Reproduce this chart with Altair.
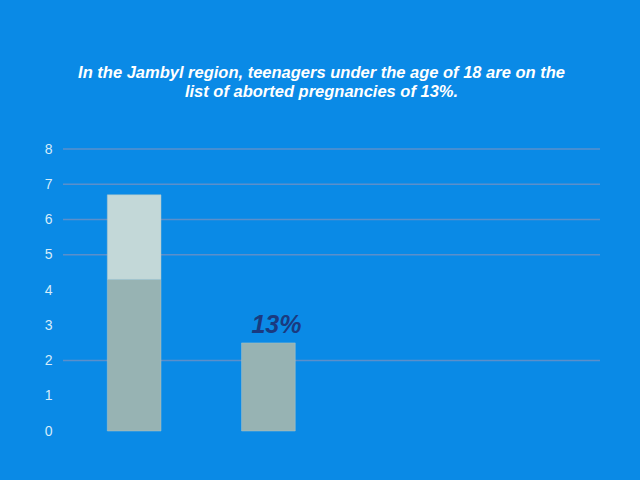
import altair as alt
import pandas as pd

categories = ["1", "2", "3", "4"]
bar_cats = ["1", "1", "2"]
bar_series = ["base", "top", "base"]
bar_values = [4.3, 2.4, 2.5]
grid_values = [8, 7, 6, 5, 2]
tick_values = [0, 1, 2, 3, 4, 5, 6, 7, 8]
label_cat = ["2"]
label_value = [2.5]
label_text = ["13%"]
title_lines = ["In the Jambyl region, teenagers under the age of 18 are on the",
               "list of aborted pregnancies of 13%."]

bars_df = pd.DataFrame({"cat": bar_cats, "series": bar_series, "value": bar_values,
                        "order": [0, 1, 0]})
grid_df = pd.DataFrame({"v": grid_values})
label_df = pd.DataFrame({"cat": label_cat, "value": label_value, "text": label_text})

yscale = alt.Scale(domain=[0, 8], nice=False)
xscale = alt.Scale(domain=categories, paddingInner=0.6, paddingOuter=0.3, align=0.55)

yaxis = alt.Axis(values=tick_values, grid=False, domain=False, ticks=False,
                 labelColor="#d6ecfa", labelFontSize=14, labelFont="Liberation Sans",
                 labelPadding=11, title=None)

grid = alt.Chart(grid_df).mark_rule(color="#5b8fcb", strokeWidth=1.5).encode(
    y=alt.Y("v:Q", scale=yscale, axis=yaxis)
)

bars = alt.Chart(bars_df).mark_bar(stroke="#a9c4c8", strokeWidth=0.5).encode(
    x=alt.X("cat:N", scale=xscale, axis=None),
    y=alt.Y("value:Q", scale=yscale, stack="zero", axis=yaxis),
    color=alt.Color("series:N", scale=alt.Scale(domain=["base", "top"],
                                                range=["#97b3b3", "#c3d8d8"]), legend=None),
    order=alt.Order("order:Q"),
)

labels = alt.Chart(label_df).mark_text(
    font="Liberation Sans", fontSize=25, fontStyle="italic", fontWeight="bold",
    color="#1a3a80", baseline="bottom", dy=-5, dx=8
).encode(
    x=alt.X("cat:N", scale=xscale, axis=None),
    y=alt.Y("value:Q", scale=yscale, axis=yaxis),
    text="text:N",
)

chart = alt.layer(grid, bars, labels).properties(
    width=537, height=282,
    background="#0a8ae6",
    padding={"left": 63, "top": 149, "right": 40, "bottom": 49},
    autosize=alt.AutoSizeParams(type="none"),
    title=alt.Title(title_lines, font="Liberation Sans", fontSize=16.5, fontWeight="bold",
                    fontStyle="italic", color="#ffffff", anchor="middle", offset=42,
                    dx=-10, lineHeight=19),
).configure_view(stroke=None)

chart.save("out.html", embed_options={"renderer": "svg", "actions": False})
